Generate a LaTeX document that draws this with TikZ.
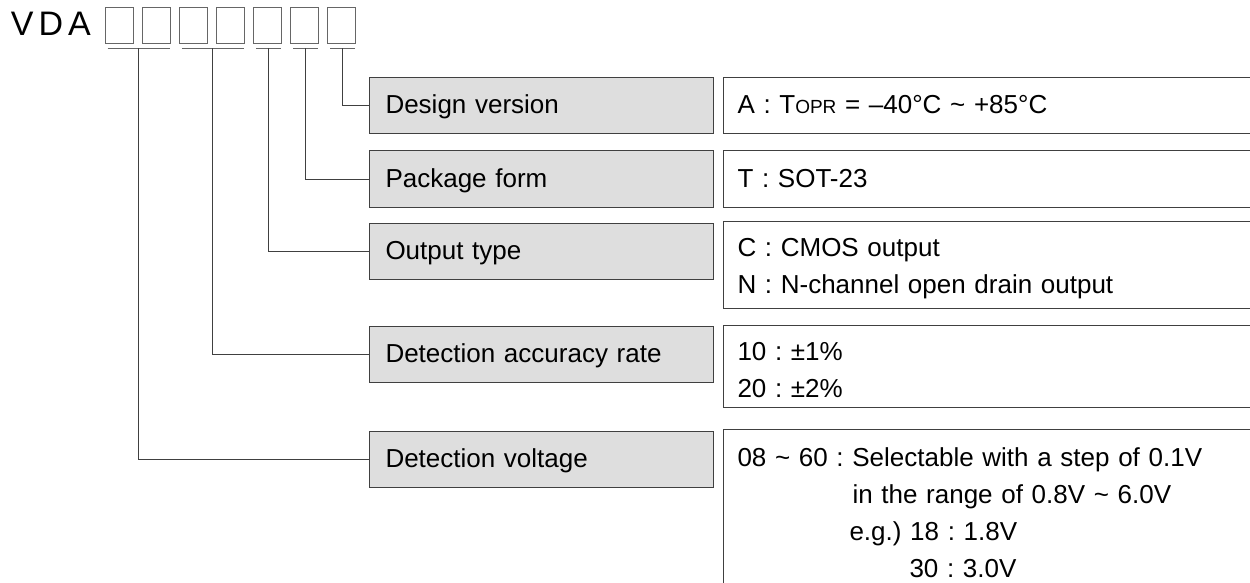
\documentclass[tikz,border=0pt]{standalone}
\usepackage{fontspec}
\setmainfont{Liberation Sans}
\frenchspacing
\tikzstyle{slot}=[rectangle,draw=black!60,line width=0.8pt,minimum width=28pt,minimum height=36pt,inner sep=0pt]
\tikzstyle{fieldbox}=[rectangle,draw=black!75,fill=black!13,line width=1pt,text height=19pt,text depth=3pt,
text width=312pt,inner xsep=16pt,inner ysep=0pt,minimum height=56pt,align=left,font=\fontsize{26}{37}\selectfont]
\tikzstyle{valuebox}=[rectangle,draw=black!75,line width=1pt,anchor=north west,
text width=560pt,inner xsep=14pt,inner ysep=10pt,minimum height=56pt,align=left,font=\fontsize{26}{37}\selectfont]
\tikzstyle{oneline}=[text height=19pt,text depth=3pt]
\tikzstyle{uline}=[draw=black!60,line width=1pt]
\tikzstyle{conn}=[draw=black!75,line width=1pt]
\usetikzlibrary{positioning}
\newcommand{\topstrut}{\rule{0pt}{25pt}}

\begin{document}
\begin{tikzpicture}[x=1pt,y=-1pt,node distance=8.3pt]
            \useasboundingbox (0,0) rectangle (1250,583);
            \clip (0,0) rectangle (1250,583);

            % CODE PART

            \node[anchor=base east,inner sep=0pt,font=\fontsize{34}{34}\selectfont] (vda) at (91,36) {V\kern5pt D\kern5pt A};
            \node[slot] (s1) at (119,25) {};
            \node[slot, right=of s1] (s2) {};
            \node[slot, right=of s2] (s3) {};
            \node[slot, right=of s3] (s4) {};
            \node[slot, right=of s4] (s5) {};
            \node[slot, right=of s5] (s6) {};
            \node[slot, right=of s6] (s7) {};

            \draw[uline] ([xshift=3pt,yshift=-5pt]s1.south west) -- coordinate (u1) ([xshift=-1pt,yshift=-5pt]s2.south east);
            \draw[uline] ([xshift=3pt,yshift=-5pt]s3.south west) -- coordinate (u2) ([xshift=-1pt,yshift=-5pt]s4.south east);
            \draw[uline] ([xshift=3pt,yshift=-5pt]s5.south west) -- coordinate (u3) ([xshift=-1pt,yshift=-5pt]s5.south east);
            \draw[uline] ([xshift=3pt,yshift=-5pt]s6.south west) -- coordinate (u4) ([xshift=-1pt,yshift=-5pt]s6.south east);
            \draw[uline] ([xshift=3pt,yshift=-5pt]s7.south west) -- coordinate (u5) ([xshift=-1pt,yshift=-5pt]s7.south east);

            % FIELD PART

            \node[fieldbox,anchor=west] (f1) at (369,106) {Design version};
            \node[fieldbox, below=16pt of f1] (f2) {Package form};
            \node[fieldbox, below=15pt of f2] (f3) {Output type};
            \node[fieldbox, below=46pt of f3] (f4) {Detection accuracy rate};
            \node[fieldbox, below=48pt of f4] (f5) {Detection voltage};

            % VALUE PART

            \node[valuebox,oneline] (v1) at ([xshift=9pt]f1.north east) {A : T{\fontsize{19}{37}\selectfont OPR} = –40°C \textasciitilde{} +85°C};
            \node[valuebox,oneline] (v2) at ([xshift=9pt]f2.north east) {T : SOT-23};
            \node[valuebox] (v3) at ([xshift=9pt,yshift=2pt]f3.north east) {\topstrut C : CMOS output\\N : N-channel open drain output};
            \node[valuebox] (v4) at ([xshift=9pt,yshift=1pt]f4.north east) {\topstrut 10 : ±1\%\\20 : ±2\%};
            \node[valuebox,inner ysep=12pt] (v5) at ([xshift=9pt,yshift=2pt]f5.north east) {\topstrut 08 \textasciitilde{} 60 : Selectable with a step of 0.1V\\
            \hspace*{115pt}in the range of 0.8V \textasciitilde{} 6.0V\\
            \hspace*{112pt}e.g.) 18 : 1.8V\\
            \hspace*{172pt}30 : 3.0V};

            % Connections of Fields

            \draw[conn] (u5) |- (f1.west);
            \draw[conn] (u4) |- (f2.west);
            \draw[conn] (u3) |- (f3.west);
            \draw[conn] (u2) |- (f4.west);
            \draw[conn] (u1) |- (f5.west);

\end{tikzpicture}
\end{document}
